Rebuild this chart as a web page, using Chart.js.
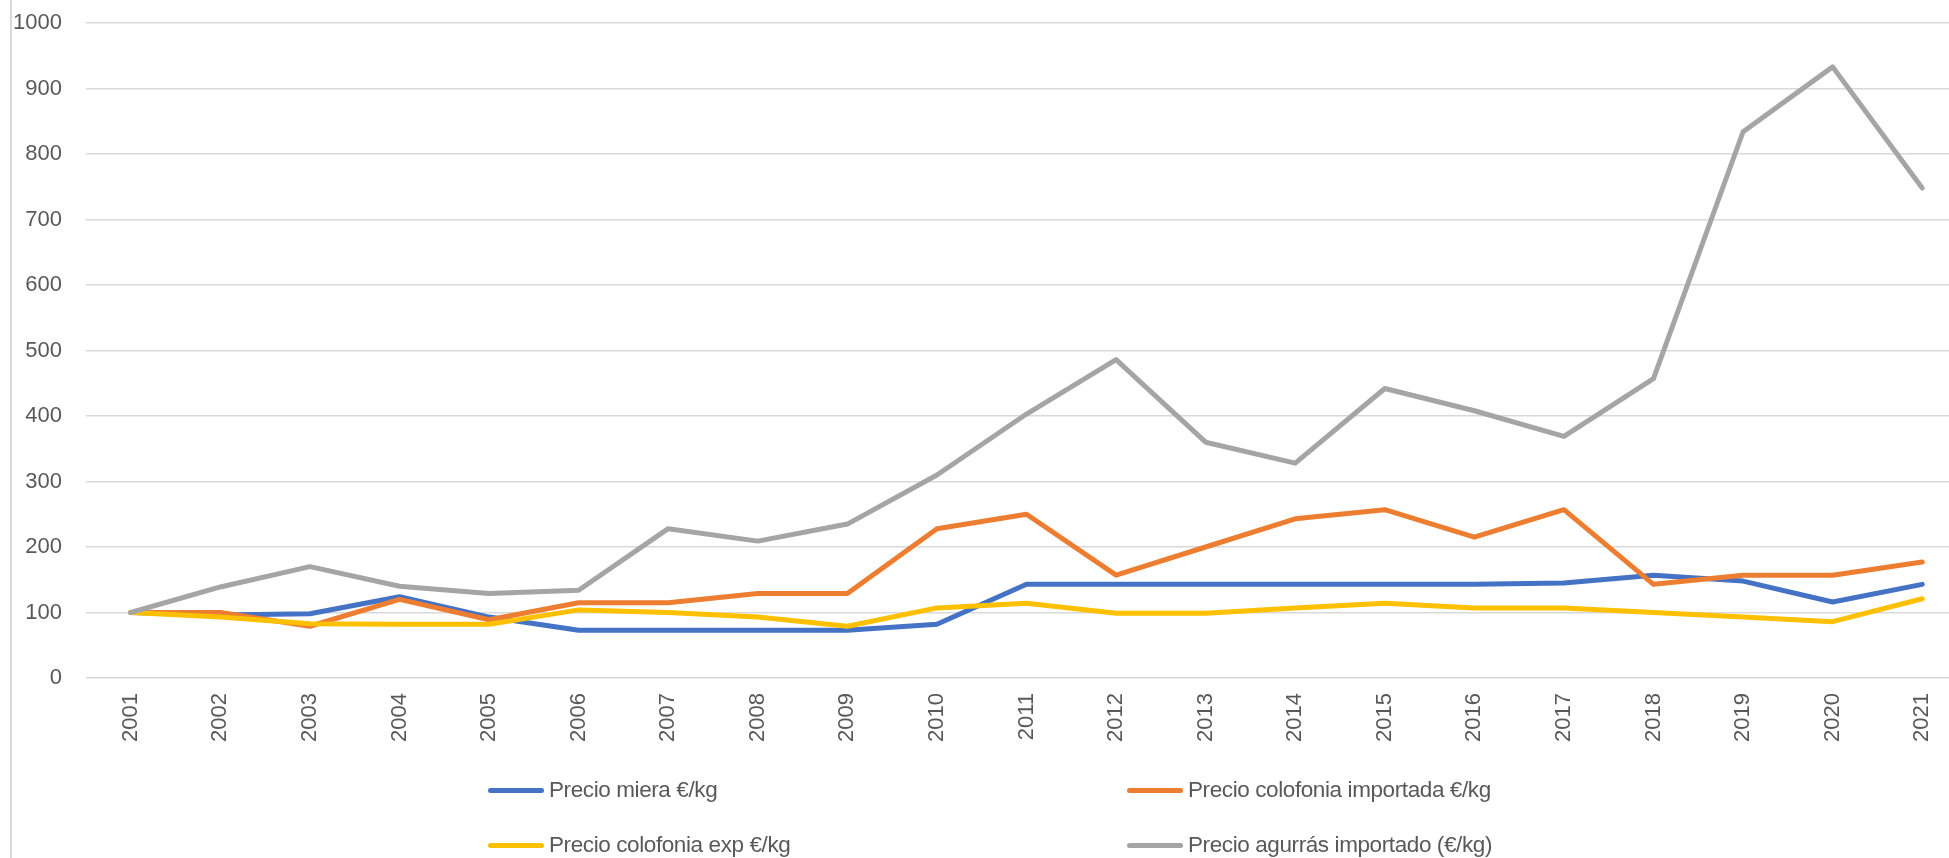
<!DOCTYPE html>
<html>
<head>
<meta charset="utf-8">
<script src="https://cdn.jsdelivr.net/npm/chart.js@4"></script>
<style>
  html, body { margin: 0; padding: 0; background: #fff; overflow: hidden; width: 1949px; height: 858px; }
  #wrap { position: absolute; left: 0; top: 0; width: 1967px; height: 858px; }
  #border { position: absolute; left: 10px; top: 0; width: 2px; height: 858px; background: #d9d9d9; }
  .lg { position: absolute; height: 30px; display: flex; align-items: center; font-family: "Liberation Sans", Arial, sans-serif; font-size: 22.5px; color: #595959; white-space: nowrap; letter-spacing: -0.4px; }
  .sw { width: 56px; height: 5px; border-radius: 3px; margin-right: 5px; }
</style>
</head>
<body>
<div id="border"></div>
<div id="wrap"><canvas id="c" width="1967" height="858"></canvas></div>
<div id="legend"></div>
<script>
const years = ['2001','2002','2003','2004','2005','2006','2007','2008','2009','2010','2011','2012','2013','2014','2015','2016','2017','2018','2019','2020','2021'];
const seriesNames = ['Precio miera €/kg', 'Precio colofonia importada €/kg', 'Precio colofonia exp €/kg', 'Precio agurrás importado (€/kg)'];
const miera = [100, 96, 98, 124, 93, 73, 73, 73, 73, 82, 143, 143, 143, 143, 143, 143, 145, 157, 148, 116, 143];
const colofoniaImportada = [100, 100, 79, 120, 89, 115, 115, 129, 129, 228, 250, 157, 200, 243, 257, 215, 257, 143, 157, 157, 177];
const colofoniaExp = [100, 93, 83, 82, 82, 104, 100, 93, 79, 107, 114, 99, 99, 107, 114, 107, 107, 100, 93, 86, 121];
const agurras = [100, 139, 170, 140, 129, 134, 228, 209, 235, 310, 403, 486, 360, 328, 442, 408, 369, 457, 834, 933, 748];
const colors = ['#4472C4', '#ED7D31', '#FFC000', '#A5A5A5'];
const yTicks = [0, 100, 200, 300, 400, 500, 600, 700, 800, 900, 1000];

const allData = [miera, colofoniaImportada, colofoniaExp, agurras];
const FONT = '"Liberation Sans", Arial, sans-serif';

const datasets = allData.map((d, i) => ({
  label: seriesNames[i],
  data: d,
  borderColor: colors[i],
  backgroundColor: colors[i],
  borderWidth: 5,
  pointRadius: 0,
  pointHoverRadius: 0,
  tension: 0,
  fill: false,
  borderCapStyle: 'round',
  borderJoinStyle: 'round',
  order: 4 - i
}));

new Chart(document.getElementById('c'), {
  type: 'line',
  data: { labels: years, datasets },
  options: {
    responsive: false,
    animation: false,
    events: [],
    layout: { padding: { top: 23, right: 0, bottom: 100, left: 0 } },
    plugins: { legend: { display: false }, tooltip: { enabled: false } },
    scales: {
      x: {
        offset: true,
        grid: { display: false, drawTicks: false },
        border: { display: false },
        ticks: {
          minRotation: 90, maxRotation: 90, autoSkip: false,
          padding: 15,
          color: '#595959',
          font: { family: FONT, size: 22 }
        },
        afterFit: (s) => { s.height = 80; s.paddingLeft = 0; s.paddingRight = 0; }
      },
      y: {
        min: 0, max: 1000,
        afterBuildTicks: (s) => { s.ticks = yTicks.map(v => ({ value: v })); },
        grid: { color: '#d9d9d9', lineWidth: 1.5, drawTicks: false },
        border: { display: false },
        ticks: {
          padding: 24,
          color: '#595959',
          font: { family: FONT, size: 22 },
          callback: (v) => String(v)
        },
        afterFit: (s) => { s.width = 86; s.paddingTop = 10; s.paddingBottom = 10; }
      }
    }
  }
});

// HTML legend built from the series names and colours
const legendPos = [
  { left: 488, top: 775 },
  { left: 1127, top: 775 },
  { left: 488, top: 830 },
  { left: 1127, top: 830 }
];
const lg = document.getElementById('legend');
seriesNames.forEach((name, i) => {
  const item = document.createElement('div');
  item.className = 'lg';
  item.style.left = legendPos[i].left + 'px';
  item.style.top = legendPos[i].top + 'px';
  const sw = document.createElement('div');
  sw.className = 'sw';
  sw.style.background = colors[i];
  const tx = document.createElement('span');
  tx.textContent = name;
  item.appendChild(sw);
  item.appendChild(tx);
  lg.appendChild(item);
});
</script>
</body>
</html>
